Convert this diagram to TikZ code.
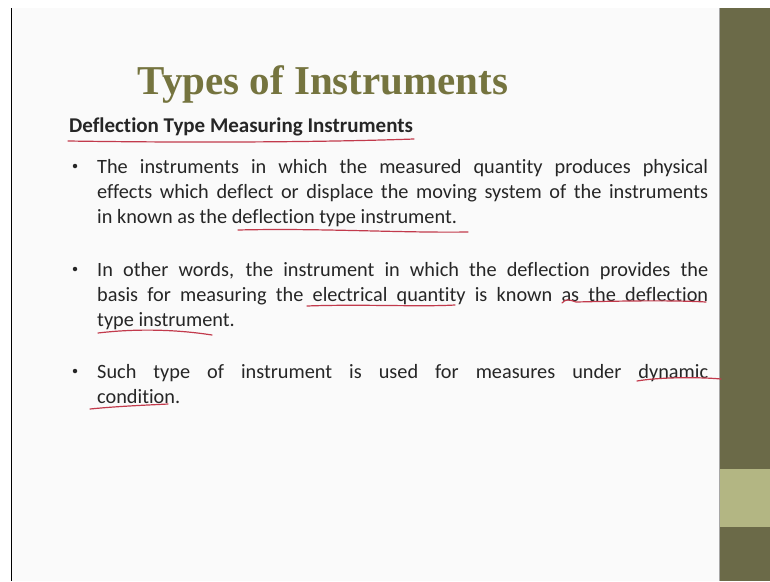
\documentclass[tikz,border=0pt]{standalone}
\usepackage{fontspec}
\setmainfont[Ligatures=CommonOff]{Carlito}
\newfontfamily\titlefont{Liberation Serif}
\definecolor{olivebar}{HTML}{6B6A48}
\definecolor{olivelight}{HTML}{B3B683}
\definecolor{titleolive}{HTML}{75743F}
\definecolor{bodyink}{HTML}{262626}
\definecolor{penred}{HTML}{C23A4C}
\definecolor{pagebg}{HTML}{FAFAFA}
\begin{document}
\begin{tikzpicture}[x=1pt,y=-1pt,
  bodyline/.style={anchor=base west,inner sep=0pt,font=\fontsize{20.3}{24}\selectfont,text=bodyink},
  bulletdot/.style={circle,fill=bodyink,inner sep=0pt,minimum size=4.5pt},
  pen/.style={penred,line width=1.2pt,line cap=round}]
\useasboundingbox (0,0) rectangle (770,581);
% slide area, left rule and side bar
\fill[white] (0,0) rectangle (770,581);
\fill[pagebg] (11,8) rectangle (719,581);
\draw[black,line width=1.6pt] (11.5,8) -- (11.5,581);
\fill[olivebar] (719,8) rectangle (770,581);
\fill[olivelight] (719,469) rectangle (770,527);
\draw[gray!70,line width=0.6pt] (719.3,8) -- (719.3,581);
% title and heading
\node[anchor=base,inner sep=0pt,text=titleolive,font=\titlefont\bfseries\fontsize{41}{48}\selectfont] (title) at (323,94) {Types of Instruments};
\node[anchor=base west,inner sep=0pt,text=bodyink,font=\bfseries\fontsize{21}{25}\selectfont] (head) at (69,132) {Deflection Type Measuring Instruments};
% first bullet
\node[bulletdot] (b1) at (75,166) {};
\node[bodyline] (p1a) at (97,173) {\makebox[611pt][s]{The instruments in which the measured quantity produces physical}};
\node[bodyline] (p1b) at (97,198) {\makebox[611pt][s]{effects which deflect or displace the moving system of the instruments}};
\node[bodyline] (p1c) at (97,223) {in known as the deflection type instrument.};
% second bullet
\node[bulletdot] (b2) at (75,269) {};
\node[bodyline] (p2a) at (97,276) {\makebox[611pt][s]{In other words, the instrument in which the deflection provides the}};
\node[bodyline] (p2b) at (97,301) {\makebox[611pt][s]{basis for measuring the electrical quantity is known as the deflection}};
\node[bodyline] (p2c) at (97,326) {type instrument.};
% third bullet
\node[bulletdot] (b3) at (75,371) {};
\node[bodyline] (p3a) at (97,378) {\makebox[611pt][s]{Such type of instrument is used for measures under dynamic}};
\node[bodyline] (p3b) at (97,403) {condition.};
% hand-drawn pen strokes
\draw[pen] (68,141) .. controls (200,143) and (330,142) .. (414,139);
\draw[pen] (238,230) .. controls (320,228) and (400,233) .. (468,232);
\draw[pen] (307,306) .. controls (360,304) and (420,307) .. (455,305);
\draw[pen] (562,303) .. controls (566,298) and (570,300) .. (576,302) .. controls (620,301) and (670,300) .. (706,302);
\draw[pen] (98,333) .. controls (140,328) and (180,330) .. (212,335);
\draw[pen] (637,381) .. controls (660,377) and (700,377) .. (721,379);
\draw[pen] (90,409) .. controls (120,406) and (150,405) .. (168,404);
\end{tikzpicture}
\end{document}
